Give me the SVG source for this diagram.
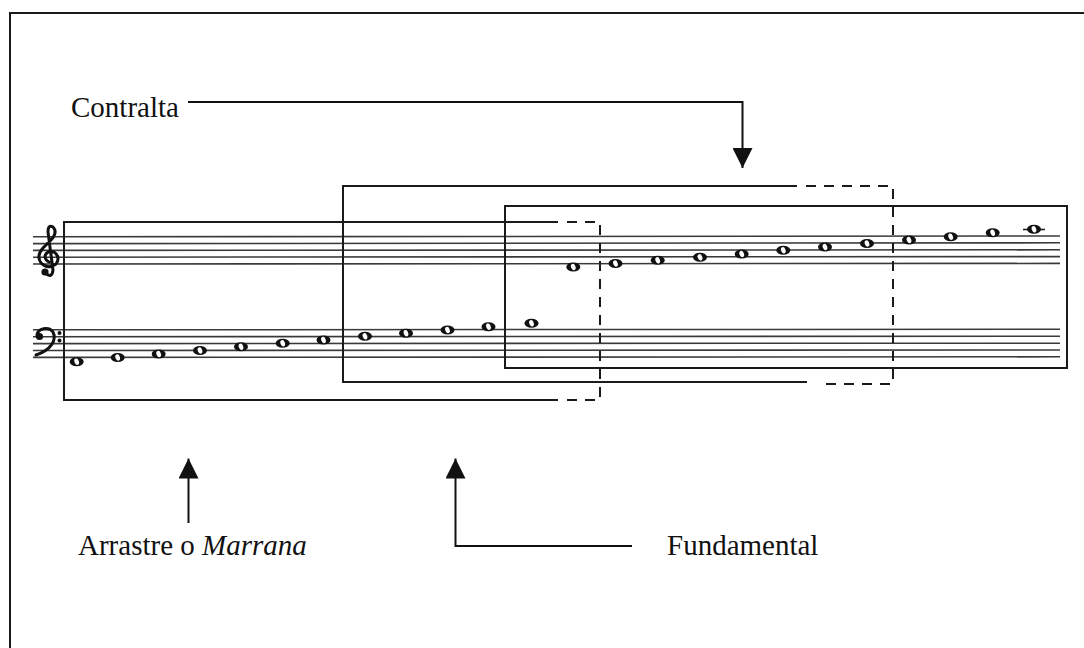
<svg xmlns="http://www.w3.org/2000/svg" width="1084" height="648" viewBox="0 0 1084 648">
<style>
.frame{fill:none;stroke:#1a1a1a;stroke-width:2}
.dash{fill:none;stroke:#1a1a1a;stroke-width:2;stroke-dasharray:10 8}
.staff line{stroke:#3a3a3a;stroke-width:1.6}
.conn{fill:none;stroke:#111;stroke-width:2}
.lbl{font-family:"Liberation Serif","Times New Roman",serif;font-size:29px;fill:#111}
.clef{fill:none;stroke:#111;stroke-width:3;stroke-linecap:round}
</style>
<defs>
<g id="note"><ellipse rx="7" ry="4.5" fill="#111"/><ellipse rx="2.2" ry="3.3" fill="#fff" transform="rotate(-20)"/></g>
<marker id="ah" viewBox="0 0 20 20" refX="20" refY="10" markerWidth="20" markerHeight="20" markerUnits="userSpaceOnUse" orient="auto"><path d="M0,0 L20,10 L0,20 Z" fill="#111"/></marker>
</defs>
<rect width="1084" height="648" fill="#fff"/>
<rect x="10" y="13" width="1100" height="700" class="frame"/>

<g id="staves">
<g class="staff" id="treble-staff">
<line x1="33" y1="236.8" x2="1060" y2="236"/>
<line x1="33" y1="243.6" x2="1060" y2="242.8"/>
<line x1="33" y1="250.4" x2="1060" y2="249.8"/>
<line x1="33" y1="257.2" x2="1060" y2="256.6"/>
<line x1="33" y1="264" x2="1060" y2="263.4"/>
</g>
<g class="staff" id="bass-staff">
<line x1="33" y1="329.8" x2="1060" y2="329.3"/>
<line x1="33" y1="336.7" x2="1060" y2="336.2"/>
<line x1="33" y1="343.6" x2="1060" y2="343.2"/>
<line x1="33" y1="350.5" x2="1060" y2="350"/>
<line x1="33" y1="357.4" x2="1060" y2="356.8"/>
</g>
<g id="treble-clef">
<path class="clef" d="M45,273 Q52,279 53,270 L48,232 Q48,224 53,227 Q58,232 51,240 L43,248 Q36,256 41,263 Q48,270 56,264 Q61,257 54,252 Q47,250 45,256 Q45,260 49,262"/>
<circle cx="45" cy="272" r="3.6" fill="#111"/>
</g>
<g id="bass-clef">
<circle cx="39.5" cy="336.5" r="3.6" fill="#111"/>
<path class="clef" d="M37,336 C37,328 49,326 53,332 C57,340 51,350 36,355"/>
<circle cx="59.5" cy="333" r="2" fill="#111"/>
<circle cx="59.5" cy="340.5" r="2" fill="#111"/>
</g>
</g>

<g id="notes">
<use href="#note" x="76.7" y="361.7"/>
<use href="#note" x="117.7" y="357.5"/>
<use href="#note" x="158.7" y="354"/>
<use href="#note" x="200" y="350.5"/>
<use href="#note" x="241" y="346.8"/>
<use href="#note" x="282.7" y="343.3"/>
<use href="#note" x="323.5" y="340"/>
<use href="#note" x="365" y="336.3"/>
<use href="#note" x="406" y="333.2"/>
<use href="#note" x="447.5" y="330"/>
<use href="#note" x="488.5" y="326.7"/>
<use href="#note" x="531.5" y="323.3"/>
<use href="#note" x="573.3" y="267"/>
<use href="#note" x="615.5" y="263.5"/>
<use href="#note" x="657.7" y="260.3"/>
<use href="#note" x="700" y="257.3"/>
<use href="#note" x="741.7" y="254"/>
<use href="#note" x="783.3" y="250.3"/>
<use href="#note" x="825" y="247"/>
<use href="#note" x="867" y="243.5"/>
<use href="#note" x="909" y="240"/>
<use href="#note" x="950.7" y="236.7"/>
<use href="#note" x="992.7" y="232.8"/>
<line x1="1023" y1="229.5" x2="1045" y2="229.5" stroke="#222" stroke-width="1.6"/>
<use href="#note" x="1034" y="229.3"/>
</g>

<g id="arrastre-box">
<path class="frame" d="M558,222 H64 V400 H558"/>
<path class="dash" d="M567,222 H600 V400 H567"/>
</g>
<g id="fundamental-box">
<path class="frame" d="M797,186 H343 V382 H807"/>
<path class="dash" d="M806,186 H893 V384 H818"/>
</g>
<g id="contralta-box">
<rect x="505" y="206" width="562" height="162" class="frame"/>
</g>

<g id="connectors">
<path class="conn" d="M188,102 H742.5 V168" marker-end="url(#ah)"/>
<path class="conn" d="M188.5,523 V458.5" marker-end="url(#ah)"/>
<path class="conn" d="M632,546 H455.5 V458.5" marker-end="url(#ah)"/>
</g>

<g id="label-contralta"><text class="lbl" x="71" y="117">Contralta</text></g>
<g id="label-arrastre"><text class="lbl" x="78" y="555">Arrastre o <tspan font-style="italic">Marrana</tspan></text></g>
<g id="label-fundamental"><text class="lbl" x="667" y="555">Fundamental</text></g>
</svg>
